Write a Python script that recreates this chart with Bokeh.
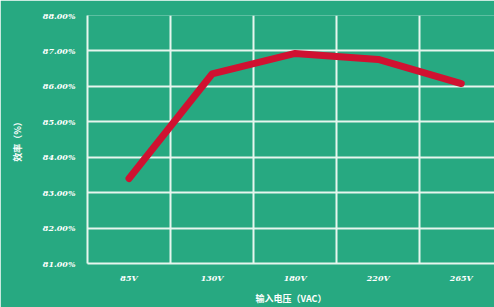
from bokeh.plotting import figure
from bokeh.models import Range1d, FixedTicker
from bokeh.embed import file_html
from bokeh.resources import INLINE

voltages = ["85V", "130V", "180V", "220V", "265V"]
efficiency = [83.40, 86.35, 86.93, 86.76, 86.08]
y_ticks = [81, 82, 83, 84, 85, 86, 87, 88]
y_tick_labels = ["81.00%", "82.00%", "83.00%", "84.00%", "85.00%", "86.00%", "87.00%", "88.00%"]

xs = [i + 0.5 for i in range(len(voltages))]

BG = "#27a981"
GRID = "#e6f6ee"

p = figure(width=494, height=307, output_backend="svg", toolbar_location=None,
           x_range=Range1d(0, 4.9), y_range=Range1d(81, 88),
           min_border_left=87, min_border_right=0, min_border_top=15, min_border_bottom=44)
p.background_fill_color = BG
p.border_fill_color = BG
p.outline_line_color = None

p.line(xs, efficiency, line_color="#d01131", line_width=7, line_join="round", line_cap="round")

p.xaxis.ticker = FixedTicker(ticks=xs)
p.xaxis.major_label_overrides = {x: v for x, v in zip(xs, voltages)}
p.yaxis.ticker = FixedTicker(ticks=y_ticks)
p.yaxis.major_label_overrides = {t: l for t, l in zip(y_ticks, y_tick_labels)}

p.xgrid.ticker = FixedTicker(ticks=[0, 1, 2, 3, 4])
p.ygrid.ticker = FixedTicker(ticks=y_ticks)
for g in (p.xgrid, p.ygrid):
    g.grid_line_color = GRID
    g.grid_line_width = 2
    g.grid_line_alpha = 1

for ax in (p.xaxis, p.yaxis):
    ax.axis_line_color = GRID
    ax.axis_line_width = 2
    ax.major_tick_line_color = None
    ax.minor_tick_line_color = None
    ax.major_tick_out = 0
    ax.major_tick_in = 0
    ax.minor_tick_out = 0
    ax.major_label_text_color = "white"
    ax.major_label_text_font = "DejaVu Serif"
    ax.major_label_text_font_style = "bold italic"
    ax.major_label_text_font_size = "8px"
    ax.axis_label_text_color = "white"
    ax.axis_label_text_font = "Noto Sans CJK SC"
    ax.axis_label_text_font_style = "bold"
    ax.axis_label_text_font_size = "9px"

p.xaxis.axis_label = "输入电压（VAC）"
p.yaxis.axis_label = "效率（%）"
p.xaxis.major_label_standoff = 9
p.xaxis.axis_label_standoff = 6
p.yaxis.major_label_standoff = 12
p.yaxis.axis_label_standoff = 16

open("out.html", "w").write(file_html(p, INLINE))
